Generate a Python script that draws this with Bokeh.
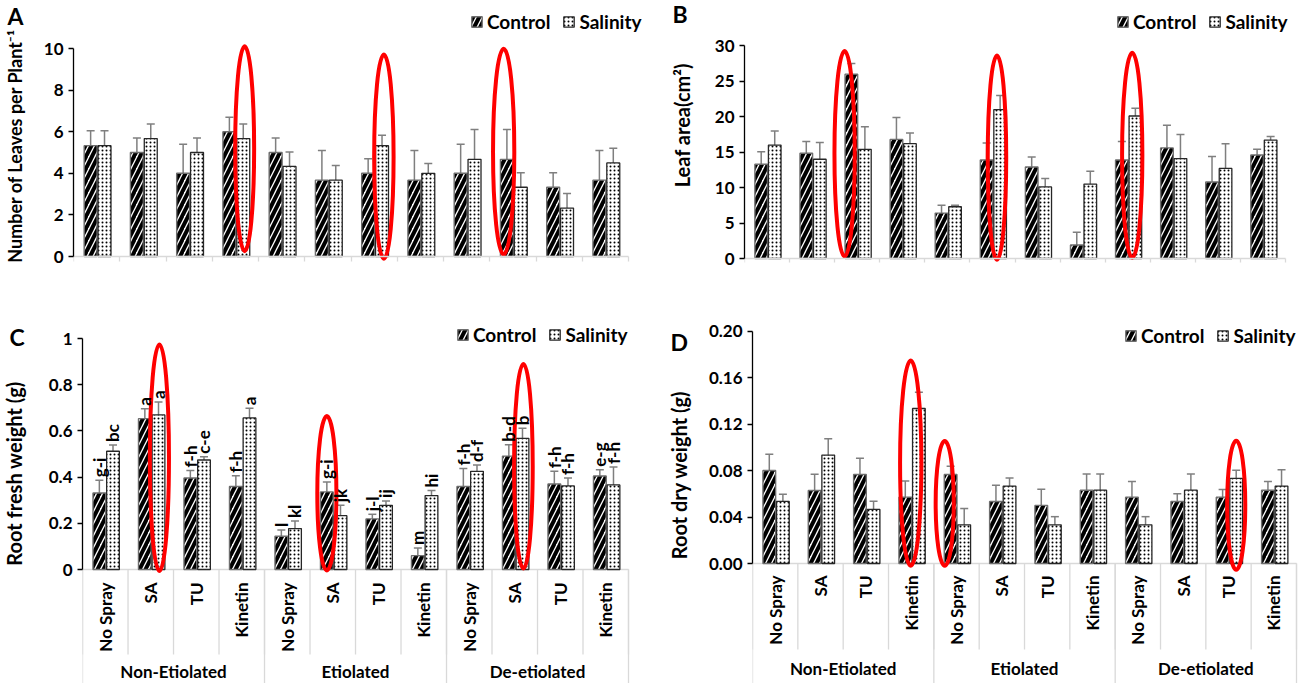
import numpy as np
from bokeh.plotting import figure
from bokeh.models import (Range1d, LinearAxis, FixedTicker, ColumnDataSource, Whisker, TeeHead,
                          Legend, LegendItem, LabelSet)
from bokeh.layouts import row, column
from bokeh.embed import file_html
from bokeh.resources import INLINE
from bokeh.core.properties import value

# ---------------- data ----------------
groups = ["Non-Etiolated", "Etiolated", "De-etiolated"]
treatments = ["No Spray", "SA", "TU", "Kinetin"]
series = ["Control", "Salinity"]

# A: number of leaves per plant
leaves_control = [5.33, 5.0, 4.0, 6.0, 5.0, 3.67, 4.0, 3.67, 4.0, 4.67, 3.33, 3.67]
leaves_control_err = [0.72, 0.7, 1.4, 0.7, 0.7, 1.43, 0.7, 1.43, 1.4, 1.43, 0.7, 1.43]
leaves_salinity = [5.33, 5.67, 5.0, 5.67, 4.33, 3.67, 5.33, 4.0, 4.67, 3.33, 2.33, 4.5]
leaves_salinity_err = [0.72, 0.7, 0.7, 0.7, 0.7, 0.7, 0.5, 0.47, 1.43, 0.7, 0.7, 0.7]

# B: leaf area (cm2)
area_control = [13.3, 14.85, 26.0, 16.8, 6.4, 13.9, 12.9, 1.9, 13.9, 15.6, 10.8, 14.6]
area_control_err = [1.75, 1.65, 1.5, 3.1, 1.1, 2.4, 1.4, 1.8, 2.6, 3.2, 3.6, 0.8]
area_salinity = [16.0, 14.0, 15.4, 16.2, 7.3, 21.0, 10.1, 10.5, 20.1, 14.1, 12.7, 16.7]
area_salinity_err = [2.0, 2.35, 3.2, 1.5, 0.2, 2.0, 1.2, 1.8, 1.1, 3.4, 3.5, 0.5]

# C: root fresh weight (g)
rfw_control = [0.331, 0.653, 0.396, 0.359, 0.144, 0.336, 0.219, 0.06, 0.359, 0.491, 0.37, 0.405]
rfw_control_err = [0.055, 0.043, 0.033, 0.047, 0.027, 0.043, 0.02, 0.033, 0.078, 0.049, 0.055, 0.027]
rfw_salinity = [0.512, 0.669, 0.474, 0.656, 0.177, 0.233, 0.278, 0.32, 0.425, 0.568, 0.362, 0.366]
rfw_salinity_err = [0.027, 0.056, 0.014, 0.042, 0.033, 0.045, 0.019, 0.022, 0.027, 0.043, 0.034, 0.078]
rfw_control_letters = ["g-i", "a", "f-h", "f-h", "l", "g-i", "j-l", "m", "f-h", "b-d", "f-h", "e-g"]
rfw_salinity_letters = ["bc", "a", "c-e", "a", "kl", "jk", "ij", "hi", "d-f", "b", "f-h", "f-h"]

# D: root dry weight (g)
rdw_control = [0.080, 0.0628, 0.0766, 0.0571, 0.0766, 0.0534, 0.050, 0.0631, 0.0571, 0.0534, 0.0571, 0.0631]
rdw_control_err = [0.014, 0.014, 0.014, 0.014, 0.007, 0.014, 0.014, 0.014, 0.0135, 0.0066, 0.0066, 0.0075]
rdw_salinity = [0.0534, 0.0933, 0.0465, 0.1334, 0.0333, 0.0666, 0.0333, 0.0631, 0.0333, 0.0631, 0.0732, 0.0666]
rdw_salinity_err = [0.0063, 0.014, 0.007, 0.014, 0.014, 0.007, 0.007, 0.014, 0.007, 0.014, 0.007, 0.014]

# red highlight ellipses: centre x (category units), centre y, width, height
ell_A_x = [3.70, 6.71, 9.30]; ell_A_y = [5.18, 4.80, 5.04]; ell_A_w = [0.41, 0.42, 0.46]; ell_A_h = [9.86, 9.82, 9.89]
ell_B_x = [2.22, 5.60, 8.60]; ell_B_y = [14.77, 14.22, 14.56]; ell_B_w = [0.45, 0.41, 0.45]; ell_B_h = [28.96, 28.8, 28.9]
ell_C_x = [1.69, 5.37, 9.69]; ell_C_y = [0.484, 0.330, 0.447]; ell_C_w = [0.42, 0.42, 0.41]; ell_C_h = [0.981, 0.668, 0.887]
ell_D_x = [3.49, 4.24, 10.67]; ell_D_y = [0.0864, 0.0518, 0.0501]; ell_D_w = [0.47, 0.40, 0.40]; ell_D_h = [0.1767, 0.1076, 0.111]

# ---------------- style ----------------
FONT = "Lato"
CAT_CENTER = 0.52
DODGE = 0.15
BAR_W = 0.28
AXIS_GRAY = "#d9d9d9"
ERR_GRAY = "#7f7f7f"
NCAT = len(groups) * len(treatments)

idx = np.arange(NCAT)
x_ctrl = idx + CAT_CENTER - DODGE
x_sal = idx + CAT_CENTER + DODGE


def side_strip(W, H, letter, letter_xy, title, title_xy, title_size):
    """Narrow figure left of a panel holding the panel letter and the y title."""
    s = figure(width=W, height=H, x_range=Range1d(0, W), y_range=Range1d(H, 0),
               x_axis_type=None, y_axis_type=None, output_backend="svg", toolbar_location=None,
               min_border_left=0, min_border_right=0, min_border_top=0, min_border_bottom=0)
    s.outline_line_color = None
    s.background_fill_color = "white"
    s.border_fill_color = "white"
    s.text(x=[letter_xy[0]], y=[letter_xy[1]], text=[letter], text_font=value(FONT),
           text_font_style="bold", text_font_size="23px", text_align="left",
           text_baseline="middle", text_color="black")
    s.text(x=[title_xy[0]], y=[title_xy[1]], text=[title], angle=np.pi / 2, text_font=value(FONT),
           text_font_style="bold", text_font_size=title_size, text_align="center",
           text_baseline="middle", text_color="black")
    return s


def make_panel(W, H, L, frame_w, Bm, y0_px, scale, ctrl, ctrl_err, sal, sal_err,
               yticks, ylabels, legend_pos, ell, cat_axis=False, cat_geo=None, letters=None):
    Fh = H - Bm
    catw = frame_w / NCAT
    x_end = (W - L) / catw
    p = figure(width=W, height=H,
               x_range=Range1d(-0.0005, x_end),
               y_range=Range1d((y0_px - Fh) / scale, y0_px / scale),
               x_axis_type=None, y_axis_type=None,
               output_backend="svg", toolbar_location=None,
               min_border_left=L, min_border_right=0, min_border_top=0, min_border_bottom=Bm)
    p.outline_line_color = None
    p.background_fill_color = "white"
    p.border_fill_color = "white"

    # y axis
    ya = LinearAxis(ticker=FixedTicker(ticks=yticks),
                    major_label_overrides=dict(zip(yticks, ylabels)),
                    bounds=(0, yticks[-1]))
    ya.axis_line_color = "black"
    ya.axis_line_width = 1.3
    ya.major_tick_out = 5
    ya.major_tick_in = 0
    ya.major_tick_line_color = "black"
    ya.major_tick_line_width = 1.3
    ya.minor_tick_line_color = None
    ya.major_label_text_font = FONT
    ya.major_label_text_font_style = "bold"
    ya.major_label_text_font_size = "17px"
    ya.major_label_text_color = "black"
    ya.major_label_standoff = 5
    p.add_layout(ya, "left")

    bounds = list(range(NCAT + 1))
    if not cat_axis:
        xa = LinearAxis(ticker=FixedTicker(ticks=[], minor_ticks=bounds), fixed_location=0,
                        bounds=(0, NCAT))
        xa.axis_line_color = AXIS_GRAY
        xa.axis_line_width = 1.5
        xa.minor_tick_out = 5
        xa.minor_tick_in = 0
        xa.minor_tick_line_color = AXIS_GRAY
        xa.minor_tick_line_width = 1.3
        xa.major_tick_line_color = None
        p.add_layout(xa, "below")
    else:
        lab_gap, sep_end, grp_y = cat_geo           # pixel offsets below the zero line
        ybot = (y0_px - Fh) / scale
        # category axis line and separators
        p.segment(x0=[0], y0=[0], x1=[NCAT], y1=[0], line_color=AXIS_GRAY, line_width=1.5)
        p.segment(x0=bounds, y0=[0] * len(bounds), x1=bounds,
                  y1=[-sep_end / scale] * len(bounds), line_color=AXIS_GRAY, line_width=1.3)
        gb = [0, 4, 8, 12]
        p.segment(x0=gb, y0=[0] * 4, x1=gb, y1=[ybot] * 4, line_color=AXIS_GRAY, line_width=1.3)
        centers = [i + 0.5 for i in range(NCAT)]
        p.text(x=centers, y=[-lab_gap / scale] * NCAT, text=[treatments[i % 4] for i in range(NCAT)],
               angle=np.pi / 2, text_align="right", text_baseline="middle",
               text_font=value(FONT), text_font_style="bold", text_font_size="17px",
               text_color="black")
        p.text(x=[2, 6, 10], y=[-grp_y / scale] * 3, text=groups,
               text_align="center", text_baseline="middle",
               text_font=value(FONT), text_font_style="bold", text_font_size="17px",
               text_color="black")

    ctrl = np.array(ctrl); ctrl_err = np.array(ctrl_err)
    sal = np.array(sal); sal_err = np.array(sal_err)
    src_c = ColumnDataSource(dict(x=x_ctrl, top=ctrl, upper=ctrl + ctrl_err, lower=ctrl - ctrl_err))
    src_s = ColumnDataSource(dict(x=x_sal, top=sal, upper=sal + sal_err, lower=sal - sal_err))

    r_c = p.vbar(x="x", top="top", bottom=0, width=BAR_W, source=src_c,
                 fill_color="white", line_color="#6e6e6e", line_width=1.4,
                 hatch_pattern="right_diagonal_line", hatch_color="black",
                 hatch_scale=12, hatch_weight=4)
    r_s = p.vbar(x="x", top="top", bottom=0, width=BAR_W, source=src_s,
                 fill_color="white", line_color="#262626", line_width=1.3,
                 hatch_pattern="dot", hatch_color="black",
                 hatch_scale=4, hatch_weight=1.2)

    for src in (src_c, src_s):
        w = Whisker(source=src, base="x", upper="upper", lower="lower",
                    line_color=ERR_GRAY, line_width=1.5,
                    upper_head=TeeHead(size=8, line_color=ERR_GRAY, line_width=1.5),
                    lower_head=TeeHead(size=8, line_color=ERR_GRAY, line_width=1.5))
        p.add_layout(w)

    if letters is not None:
        for xs, tops, errs, labs in ((x_ctrl, ctrl, ctrl_err, letters[0]), (x_sal, sal, sal_err, letters[1])):
            lsrc = ColumnDataSource(dict(x=xs, y=tops + errs, text=labs))
            ls = LabelSet(x="x", y="y", text="text", source=lsrc, angle=np.pi / 2,
                          text_align="left", text_baseline="middle", y_offset=3,
                          text_font=value(FONT), text_font_style="bold",
                          text_font_size="17px", text_color="black")
            p.add_layout(ls)

    ex, ey, ew, eh = ell
    p.ellipse(x=ex, y=ey, width=ew, height=eh, fill_color=None, line_color="#ff0000", line_width=4)

    legend = Legend(items=[LegendItem(label=series[0], renderers=[r_c]),
                           LegendItem(label=series[1], renderers=[r_s])],
                    location=legend_pos, orientation="horizontal",
                    padding=0, margin=0, spacing=12, glyph_width=13, glyph_height=13,
                    label_standoff=4, label_height=21,
                    border_line_color=None, background_fill_alpha=0,
                    label_text_font=FONT, label_text_font_style="bold",
                    label_text_font_size="19px", label_text_color="black")
    p.add_layout(legend)
    return p


# ---- top row ----
sA = side_strip(40, 292, "A", (7, 17), "Number of Leaves per Plant\u207b\u00b9", (14, 162), "18px")
pA = make_panel(616, 292, 32, 556, 30, 256, 20.8,
                leaves_control, leaves_control_err, leaves_salinity, leaves_salinity_err,
                [0, 2, 4, 6, 8, 10], ["0", "2", "4", "6", "8", "10"],
                (397, 229.5), (ell_A_x, ell_A_y, ell_A_w, ell_A_h))

sB = side_strip(46, 292, "B", (16, 15), "Leaf area(cm\u00b2)", (25, 139), "20px")
pB = make_panel(596, 292, 42, 541, 30, 258, 7.09,
                area_control, area_control_err, area_salinity, area_salinity_err,
                [0, 5, 10, 15, 20, 25, 30], ["0", "5", "10", "15", "20", "25", "30"],
                (372, 229.5), (ell_B_x, ell_B_y, ell_B_w, ell_B_h))

# ---- bottom row ----
sC = side_strip(40, 391, "C", (9, 44), "Root fresh weight (g)", (13, 181), "20px")
pC = make_panel(616, 391, 42, 546, 0, 277, 231.0,
                rfw_control, rfw_control_err, rfw_salinity, rfw_salinity_err,
                [0, 0.2, 0.4, 0.6, 0.8, 1], ["0", "0.2", "0.4", "0.6", "0.8", "1"],
                (374, 337.5), (ell_C_x, ell_C_y, ell_C_w, ell_C_h), cat_axis=True,
                cat_geo=(13, 85, 102), letters=(rfw_control_letters, rfw_salinity_letters))

sD = side_strip(46, 391, "D", (14, 49), "Root  dry weight (g)", (22, 180), "20px")
pD = make_panel(596, 391, 50, 544, 0, 271, 1162.0,
                rdw_control, rdw_control_err, rdw_salinity, rdw_salinity_err,
                [0, 0.04, 0.08, 0.12, 0.16, 0.2], ["0.00", "0.04", "0.08", "0.12", "0.16", "0.20"],
                (372, 336.5), (ell_D_x, ell_D_y, ell_D_w, ell_D_h), cat_axis=True,
                cat_geo=(12, 86, 105))

layout = column(row(sA, pA, sB, pB, spacing=0), row(sC, pC, sD, pD, spacing=0), spacing=0)

open("out.html", "w").write(file_html(layout, INLINE))
